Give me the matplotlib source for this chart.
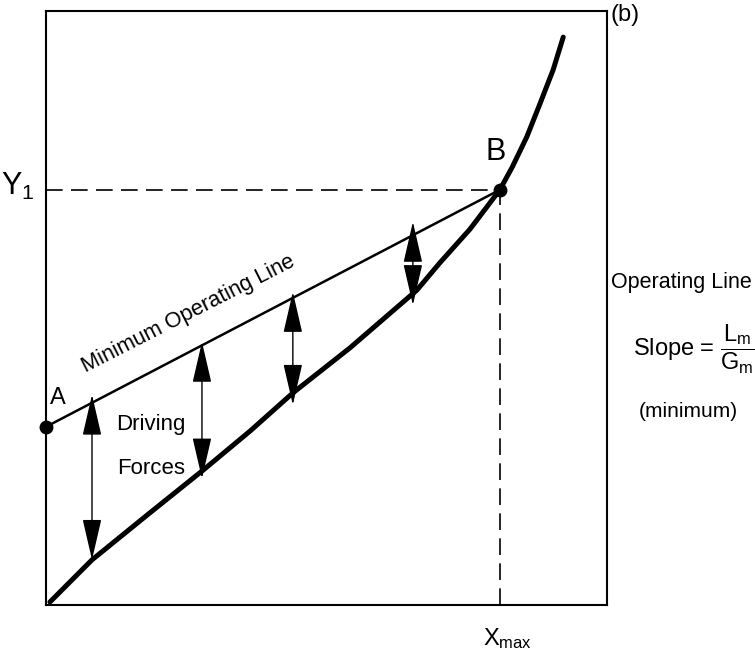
import matplotlib
matplotlib.use('Agg')
import matplotlib.pyplot as plt

plt.rcParams['font.family'] = ['Liberation Sans', 'DejaVu Sans']
plt.rcParams['mathtext.fontset'] = 'custom'
plt.rcParams['mathtext.rm'] = 'Liberation Sans'
plt.rcParams['mathtext.it'] = 'Liberation Sans:italic'

# equilibrium curve (x, y in fractions of the box)
eq_x = [0.007, 0.082, 0.185, 0.280, 0.364, 0.440, 0.542, 0.661, 0.702,
        0.756, 0.809, 0.831, 0.857, 0.881, 0.904, 0.922]
eq_y = [0.005, 0.076, 0.155, 0.227, 0.293, 0.357, 0.433, 0.530, 0.576,
        0.633, 0.699, 0.737, 0.788, 0.845, 0.901, 0.956]

# minimum operating line, from A to B
op_x = [0.0, 0.809]
op_y = [0.300, 0.699]

# driving force arrows
arrow_x = [0.082, 0.278, 0.440, 0.654]
arrow_low = [0.076, 0.213, 0.337, 0.505]
arrow_high = [0.354, 0.443, 0.527, 0.645]

fig = plt.figure(figsize=(7.55, 6.69), dpi=100)
ax = fig.add_axes([46 / 755, 64 / 669, 561 / 755, 594 / 669])
ax.set_xlim(0, 1)
ax.set_ylim(0, 1)
ax.set_xticks([])
ax.set_yticks([])
for s in ax.spines.values():
    s.set_linewidth(1.5)

# dashed guides to Y1 and Xmax
ax.plot([0, op_x[1]], [op_y[1], op_y[1]], color='k', lw=1.2, ls=(0, (10, 5)))
ax.plot([op_x[1], op_x[1]], [0, op_y[1]], color='k', lw=1.2, ls=(0, (10, 5)))

ax.plot(eq_x, eq_y, color='k', lw=3.6, solid_capstyle='round', solid_joinstyle='round')
ax.plot(op_x, op_y, color='k', lw=1.8)
ax.plot(op_x, op_y, 'o', color='k', markersize=9, clip_on=False, zorder=5)

for x, lo, hi in zip(arrow_x, arrow_low, arrow_high):
    ax.annotate('', xy=(x, hi), xytext=(x, lo),
                arrowprops=dict(arrowstyle='<|-|>,head_length=2.6,head_width=0.6',
                                color='k', lw=1.0, shrinkA=0, shrinkB=0))

ax.text(-0.021, 0.690, r'Y$\mathregular{_1}$', fontsize=22, ha='right', va='baseline')
ax.text(0.779, -0.067, r'X$\mathregular{_{max}}$', fontsize=17, ha='left', va='baseline',
        clip_on=False)
ax.text(0.021, 0.348, 'A', fontsize=17, ha='center', va='center')
ax.text(0.802, 0.763, 'B', fontsize=22, ha='center', va='center')
ax.text(0.258, 0.481, 'Minimum Operating Line', fontsize=15.7, rotation=27,
        rotation_mode='anchor', ha='center', va='baseline')
ax.text(0.187, 0.295, 'Driving', fontsize=16, ha='center', va='baseline')
ax.text(0.187, 0.221, 'Forces', fontsize=16, ha='center', va='baseline')

ax.text(1.032, 0.993, '(b)', fontsize=17, ha='center', va='center', clip_on=False)
ax.text(1.007, 0.534, 'Operating Line', fontsize=15.5, ha='left', va='baseline',
        clip_on=False)
ax.text(1.155, 0.430, r'Slope = $\dfrac{\mathrm{L_m}}{\mathrm{G_m}}$', fontsize=17,
        ha='center', va='center', clip_on=False)
ax.text(1.145, 0.325, '(minimum)', fontsize=15, ha='center', va='center',
        clip_on=False)

fig.savefig('out.png', dpi=100)
